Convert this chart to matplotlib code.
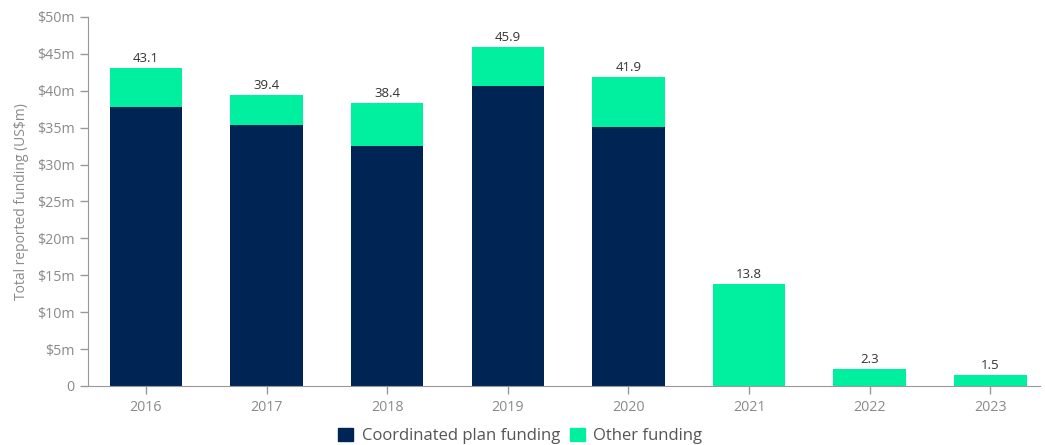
import matplotlib
matplotlib.use("Agg")
import matplotlib.pyplot as plt
from matplotlib.patches import Patch

plt.rcParams["font.family"] = ["Open Sans", "DejaVu Sans"]

years = ["2016", "2017", "2018", "2019", "2020", "2021", "2022", "2023"]
coordinated = [37.8, 35.4, 32.5, 40.6, 35.1, 0.0, 0.0, 0.0]
totals = [43.1, 39.4, 38.4, 45.9, 41.9, 13.8, 2.3, 1.5]
other = [t - c for t, c in zip(totals, coordinated)]
y_ticks = [0, 5, 10, 15, 20, 25, 30, 35, 40, 45, 50]
y_tick_labels = ["0"] + [f"${v}m" for v in y_ticks[1:]]

NAVY = "#002554"
GREEN = "#00f0a0"
AXIS = "#999999"
TICK_TEXT = "#8a8a8a"

fig = plt.figure(figsize=(10.45, 4.45), dpi=100)
ax = fig.add_axes([0.0842, 0.1326, 0.9108, 0.8292])

x = list(range(len(years)))
ax.bar(x, coordinated, width=0.6, color=NAVY, linewidth=0)
ax.bar(x, other, width=0.6, bottom=coordinated, color=GREEN, linewidth=0)

for xi, t in zip(x, totals):
    ax.annotate(f"{t}", (xi, t), xytext=(0, 2), textcoords="offset points",
                ha="center", va="bottom", fontsize=9.5, color="#333333")

ax.set_xlim(-0.48, 7.41)
ax.set_ylim(0, 50)
ax.set_xticks(x)
ax.set_xticklabels(years)
ax.set_yticks(y_ticks)
ax.set_yticklabels(y_tick_labels)
ax.tick_params(axis="both", colors=AXIS, labelcolor=TICK_TEXT, labelsize=10.3, length=6, width=1)
ax.tick_params(axis="x", pad=4)

for side in ["top", "right"]:
    ax.spines[side].set_visible(False)
for side in ["left", "bottom"]:
    ax.spines[side].set_color(AXIS)

ax.set_ylabel("Total reported funding (US$m)", color=TICK_TEXT, fontsize=10, labelpad=6)

handles = [Patch(color=NAVY, label="Coordinated plan funding"),
           Patch(color=GREEN, label="Other funding")]
fig.legend(handles=handles, loc="lower center", bbox_to_anchor=(0.498, -0.032), ncol=2,
           frameon=False, fontsize=12, handlelength=0.9, handleheight=0.9,
           handletextpad=0.5, columnspacing=0.6, labelcolor="#555555")

fig.savefig("out.png", dpi=100)
plt.close(fig)
